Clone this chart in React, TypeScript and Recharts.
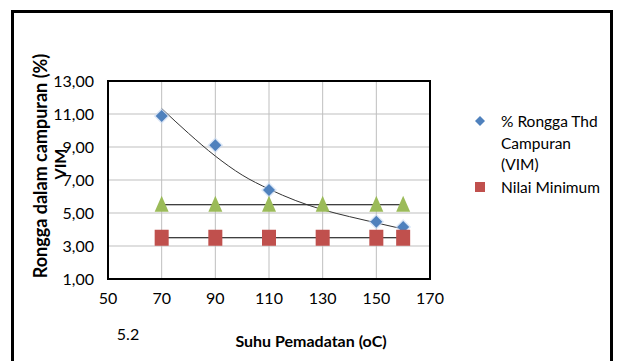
import { ComposedChart, Scatter, Line, XAxis, YAxis, CartesianGrid } from 'recharts'

// Suhu pemadatan (oC)
const suhu = [70, 90, 110, 150, 160]
const vim = [10.88, 9.1, 6.4, 4.47, 4.15]

const suhuBatas = [70, 90, 110, 130, 150, 160]
const nilaiMaksimum = [5.5, 5.5, 5.5, 5.5, 5.5, 5.5]
const nilaiMinimum = [3.5, 3.5, 3.5, 3.5, 3.5, 3.5]

// trendline
const trendX = [70, 80, 90, 100, 110, 120, 130, 140, 150, 160]
const trendY = [11.33, 9.83, 8.45, 7.3, 6.45, 5.75, 5.2, 4.78, 4.4, 4.03]

const xTicks = [50, 70, 90, 110, 130, 150, 170]
const yTicks = [1, 3, 5, 7, 9, 11, 13]

const vimData = suhu.map((x, i) => ({ x, y: vim[i] }))
const maxData = suhuBatas.map((x, i) => ({ x, y: nilaiMaksimum[i] }))
const minData = suhuBatas.map((x, i) => ({ x, y: nilaiMinimum[i] }))
const trendData = trendX.map((x, i) => ({ x, y: trendY[i] }))

const FONT = 'Lato, "Open Sans", sans-serif'

const Diamond = (p: any) => (
  <g>
    <path
      d={`M${p.cx},${p.cy - 8} L${p.cx + 8},${p.cy} L${p.cx},${p.cy + 8} L${p.cx - 8},${p.cy} Z`}
      fill="#c6d9f1"
      opacity={0.6}
    />
    <path
      d={`M${p.cx},${p.cy - 6} L${p.cx + 6},${p.cy} L${p.cx},${p.cy + 6} L${p.cx - 6},${p.cy} Z`}
      fill="#4f81bd"
    />
  </g>
)

const Triangle = (p: any) => (
  <path
    d={`M${p.cx},${p.cy - 9} L${p.cx + 7},${p.cy + 7} L${p.cx - 7},${p.cy + 7} Z`}
    fill="#9bbb59"
  />
)

const Square = (p: any) => (
  <rect x={p.cx - 7} y={p.cy - 8} width={14} height={16} fill="#c0504d" />
)

export default function App() {
  return (
    <div style={{ position: 'fixed', left: 0, top: 0, width: 617, height: 361, background: '#fff', overflow: 'hidden', fontFamily: FONT }}>
      <div style={{ position: 'absolute', left: 11, top: 10, width: 596, height: 400, border: '3px solid #000' }} />
      <ComposedChart
        width={617}
        height={361}
        margin={{ top: 81, left: 48, right: 187, bottom: 52 }}
        style={{ position: 'absolute', left: 0, top: 0 }}
      >
        <CartesianGrid stroke="#bfbfbf" strokeWidth={1} />
        <XAxis
          type="number"
          dataKey="x"
          domain={[50, 170]}
          ticks={xTicks}
          allowDataOverflow
          height={30}
          axisLine={false}
          tickLine={false}
          tickSize={0}
          tickMargin={14}
          tick={{ fill: '#000', fontSize: 16, fontFamily: FONT }}
        />
        <YAxis
          type="number"
          dataKey="y"
          domain={[1, 13]}
          ticks={yTicks}
          allowDataOverflow
          width={60}
          axisLine={false}
          tickLine={false}
          tickSize={0}
          tickMargin={14}
          tickFormatter={(v: number) => v.toFixed(2).replace('.', ',')}
          tick={{ fill: '#000', fontSize: 16, fontFamily: FONT }}
        />
        <Scatter data={vimData} shape={Diamond} isAnimationActive={false} />
        <Scatter data={maxData} shape={Triangle} isAnimationActive={false} />
        <Scatter data={minData} shape={Square} isAnimationActive={false} />
        <Line data={maxData} dataKey="y" stroke="#000" strokeWidth={1} dot={false} isAnimationActive={false} />
        <Line data={minData} dataKey="y" stroke="#000" strokeWidth={1} dot={false} isAnimationActive={false} />
        <Line data={trendData} dataKey="y" type="monotone" stroke="#333" strokeWidth={1} dot={false} isAnimationActive={false} />
      </ComposedChart>
      <div style={{ position: 'absolute', left: 107, top: 80, width: 320, height: 196, border: '2px solid #000' }} />
      <svg width={617} height={361} style={{ position: 'absolute', left: 0, top: 0, pointerEvents: 'none' }}>
        <text
          transform="translate(40,166) rotate(-90)"
          textAnchor="middle"
          dominantBaseline="central"
          fontSize={18}
          fontWeight="bold"
          fontFamily={FONT}
        >
          Rongga dalam campuran (%)
        </text>
        <text
          transform="translate(59,164) rotate(-90)"
          textAnchor="middle"
          dominantBaseline="central"
          fontSize={16}
          fontWeight="bold"
          fontFamily={FONT}
        >
          VIM
        </text>
        <text x={311} y={340} textAnchor="middle" dominantBaseline="central" fontSize={16} fontWeight="bold" fontFamily={FONT}>
          Suhu Pemadatan (oC)
        </text>
        <text x={128} y={333} textAnchor="middle" dominantBaseline="central" fontSize={16} fontFamily={FONT}>
          5.2
        </text>
        <path d="M480,116 L485,121 L480,126 L475,121 Z" fill="#4f81bd" />
        <text x={501} y={121} dominantBaseline="central" fontSize={15.5} fontFamily={FONT}>% Rongga Thd</text>
        <text x={501} y={143} dominantBaseline="central" fontSize={15.5} fontFamily={FONT}>Campuran</text>
        <text x={501} y={164} dominantBaseline="central" fontSize={15.5} fontFamily={FONT}>(VIM)</text>
        <rect x={475} y={182} width={10} height={10} fill="#c0504d" />
        <text x={501} y={187} dominantBaseline="central" fontSize={15.5} fontFamily={FONT}>Nilai Minimum</text>
      </svg>
    </div>
  )
}
